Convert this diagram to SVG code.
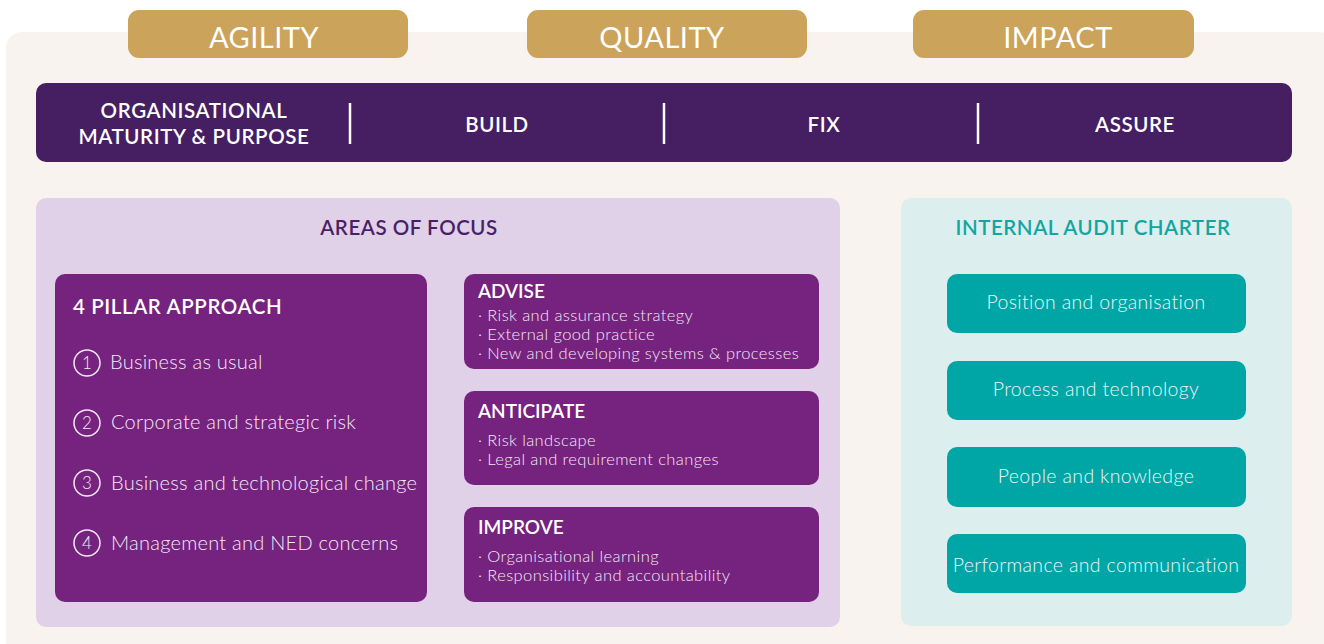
<svg xmlns="http://www.w3.org/2000/svg" width="1324" height="644" viewBox="0 0 1324 644">
<style>
text{font-family:Lato,"Open Sans","Liberation Sans",sans-serif}
.tab{fill:#CCA35A}
.tabt{fill:#fff;font-size:29px;letter-spacing:0.5px;text-anchor:middle}
.bart{fill:#fff;font-size:20.5px;font-weight:600;letter-spacing:0.6px;text-anchor:middle}
.div{stroke:#fff;stroke-width:2.5}
.pb{fill:#76227F}
.ttl{fill:#fff;font-size:19px;font-weight:600}
.ttl2{fill:#fff;font-size:20.5px;font-weight:600;letter-spacing:0.6px}
.it{fill:#F3EAF5;font-size:20px;font-weight:300;letter-spacing:0.25px}
.bl{fill:#F3EAF5;font-size:16.5px;font-weight:300;letter-spacing:0.4px}
.circ{fill:none;stroke:#F3EAF5;stroke-width:1.5}
.num{fill:#F3EAF5;font-size:17px;font-weight:300;text-anchor:middle}
.tb{fill:#00A6A6}
.tt{fill:#EAF7F7;font-size:19.5px;font-weight:300;letter-spacing:0.35px;text-anchor:middle}
.hd{font-size:20.5px;font-weight:600;letter-spacing:0.55px;text-anchor:middle}
</style>
<rect x="6" y="32" width="1330" height="640" rx="16" fill="#F8F3EE"/>
<g id="tab-agility"><rect class="tab" x="128" y="10" width="280" height="48" rx="11"/><text class="tabt" x="264" y="48">AGILITY</text></g>
<g id="tab-quality"><rect class="tab" x="527" y="10" width="280" height="48" rx="11"/><text class="tabt" x="662" y="48">QUALITY</text></g>
<g id="tab-impact"><rect class="tab" x="913" y="10" width="281" height="48" rx="11"/><text class="tabt" x="1058" y="48">IMPACT</text></g>
<g id="bar">
<rect x="36" y="83" width="1256" height="79" rx="10" fill="#461F63"/>
<text class="bart" x="194" y="118">ORGANISATIONAL</text>
<text class="bart" x="194" y="144">MATURITY &amp; PURPOSE</text>
<line class="div" x1="350" y1="103" x2="350" y2="144"/>
<text class="bart" x="497" y="132">BUILD</text>
<line class="div" x1="664" y1="103" x2="664" y2="144"/>
<text class="bart" x="824" y="132">FIX</text>
<line class="div" x1="978" y1="103" x2="978" y2="144"/>
<text class="bart" x="1135" y="132">ASSURE</text>
</g>
<g id="areas-of-focus">
<rect x="36" y="198" width="804" height="429" rx="10" fill="#E0D1E8"/>
<text class="hd" x="409" y="235" fill="#4A1F66">AREAS OF FOCUS</text>
</g>
<g id="four-pillar">
<rect class="pb" x="55" y="274" width="372" height="328" rx="10"/>
<text class="ttl2" x="73" y="314">4 PILLAR APPROACH</text>
<circle class="circ" cx="87" cy="363" r="13"/><text class="num" x="87" y="369">1</text><text class="it" x="110" y="369">Business as usual</text>
<circle class="circ" cx="87" cy="423" r="13"/><text class="num" x="87" y="429">2</text><text class="it" x="111" y="429">Corporate and strategic risk</text>
<circle class="circ" cx="87" cy="483" r="13"/><text class="num" x="87" y="489">3</text><text class="it" x="111" y="490">Business and technological change</text>
<circle class="circ" cx="87" cy="543" r="13"/><text class="num" x="87" y="549">4</text><text class="it" x="111" y="550">Management and NED concerns</text>
</g>
<g id="advise">
<rect class="pb" x="464" y="274" width="355" height="95" rx="10"/>
<text class="ttl" x="478" y="298">ADVISE</text>
<text class="bl" x="478" y="321">· Risk and assurance strategy</text>
<text class="bl" x="478" y="340">· External good practice</text>
<text class="bl" x="478" y="359">· New and developing systems &amp; processes</text>
</g>
<g id="anticipate">
<rect class="pb" x="464" y="391" width="355" height="94" rx="10"/>
<text class="ttl" x="478" y="418">ANTICIPATE</text>
<text class="bl" x="478" y="446">· Risk landscape</text>
<text class="bl" x="478" y="465">· Legal and requirement changes</text>
</g>
<g id="improve">
<rect class="pb" x="464" y="507" width="355" height="95" rx="10"/>
<text class="ttl" x="478" y="534">IMPROVE</text>
<text class="bl" x="478" y="562">· Organisational learning</text>
<text class="bl" x="478" y="581">· Responsibility and accountability</text>
</g>
<g id="charter">
<rect x="901" y="198" width="391" height="428" rx="10" fill="#DCEEED"/>
<text class="hd" x="1093" y="235" fill="#0FA6A3">INTERNAL AUDIT CHARTER</text>
</g>
<g id="position"><rect class="tb" x="947" y="274" width="299" height="59" rx="10"/><text class="tt" x="1096" y="309">Position and organisation</text></g>
<g id="process"><rect class="tb" x="947" y="361" width="299" height="59" rx="10"/><text class="tt" x="1096" y="396">Process and technology</text></g>
<g id="people"><rect class="tb" x="947" y="447" width="299" height="60" rx="10"/><text class="tt" x="1096" y="483">People and knowledge</text></g>
<g id="performance"><rect class="tb" x="947" y="534" width="299" height="59" rx="10"/><text class="tt" x="1096" y="572">Performance and communication</text></g>
<g id="connectors"/>
</svg>
